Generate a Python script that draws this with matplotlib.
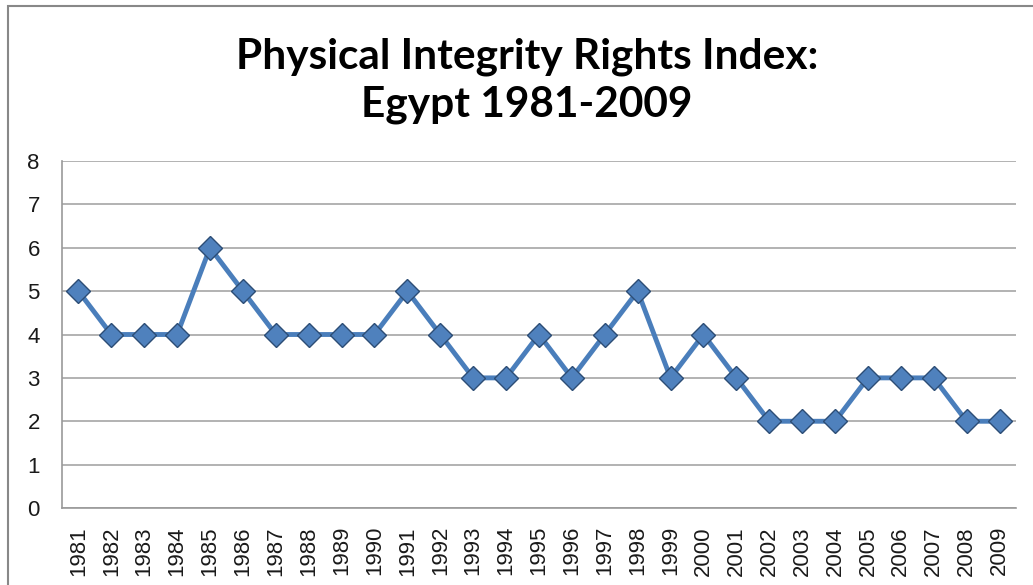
import matplotlib
matplotlib.use('Agg')
import matplotlib.pyplot as plt
from matplotlib.patches import Rectangle

plt.rcParams['font.family'] = ['Liberation Sans', 'DejaVu Sans']

# data
years = [str(y) for y in range(1981, 2010)]
index_values = [5, 4, 4, 4, 6, 5, 4, 4, 4, 4, 5, 4, 3, 3, 4,
                3, 4, 5, 3, 4, 3, 2, 2, 2, 3, 3, 3, 2, 2]
y_ticks = [0, 1, 2, 3, 4, 5, 6, 7, 8]
title = 'Physical Integrity Rights Index:\nEgypt 1981-2009'

fig = plt.figure(figsize=(10.33, 5.85), dpi=100)
ax = fig.add_axes([0.06, 0.1316, 0.9235, 0.5932])

# outer chart frame (only left and top edges fall inside the picture)
fig.patches.append(Rectangle((8 / 1033, -0.1), 1.2, 1 - 6 / 585 + 0.1,
                             transform=fig.transFigure, fill=False,
                             edgecolor='#888888', linewidth=1.5))

x = list(range(len(years)))
ax.plot(x, index_values, color='#4a7ebb', linewidth=3.5, zorder=3,
        marker='D', markersize=12, markerfacecolor='#4f81bd',
        markeredgecolor='#2c4d75', markeredgewidth=1)

ax.set_xlim(-0.5, len(years) - 0.5)
ax.set_ylim(0, 8)
ax.set_yticks(y_ticks)
ax.set_xticks(x)
ax.set_xticklabels(years, rotation=90)
ax.tick_params(length=0, labelsize=16, colors='#1a1a1a')
ax.tick_params(axis='y', pad=16)
ax.tick_params(axis='x', pad=13)

ax.grid(axis='y', color='#a6a6a6', linewidth=1.2)
ax.set_axisbelow(True)
for side in ['top', 'right']:
    ax.spines[side].set_visible(False)
for side in ['left', 'bottom']:
    ax.spines[side].set_color('#999999')
    ax.spines[side].set_linewidth(1.2)

fig.text(0.51, 0.862, title, ha='center', va='center', fontsize=30.5,
         fontweight='bold', family='Lato', linespacing=1.28)

fig.savefig('out.png', dpi=100)
